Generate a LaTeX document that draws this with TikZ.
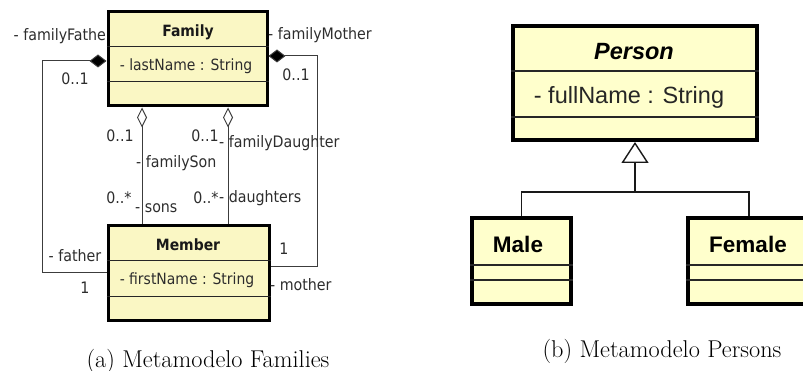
\documentclass[tikz,border=0pt]{standalone}
\usepackage{fontspec}
\newfontfamily\umlfont{DejaVu Sans Condensed}
\newfontfamily\arialfont{Liberation Sans}
\usetikzlibrary{arrows.meta}
\definecolor{umlfillA}{RGB}{250,247,196}
\definecolor{umlfillB}{RGB}{255,255,204}
\definecolor{labelgray}{RGB}{45,45,45}
\definecolor{linkgray}{RGB}{60,60,60}

\begin{document}
\begin{tikzpicture}[x=1pt,y=-1pt,
  classA/.style={draw=black, line width=3pt, fill=umlfillA, inner sep=0pt},
  classB/.style={draw=black, line width=4pt, fill=umlfillB, inner sep=0pt},
  dividerA/.style={draw=black!85, line width=1pt},
  dividerB/.style={draw=black!85, line width=1.1pt},
  titleA/.style={font=\umlfont\bfseries\fontsize{15.5}{18}\selectfont, text=black!90, inner sep=0pt},
  attrA/.style={font=\umlfont\fontsize{15.5}{18}\selectfont, text=labelgray, inner sep=0pt},
  lbl/.style={font=\umlfont\fontsize{15.8}{18}\selectfont, text=labelgray, inner sep=0pt},
  titleB/.style={font=\arialfont\bfseries\fontsize{22.5}{26}\selectfont, inner sep=0pt},
  attrB/.style={font=\arialfont\fontsize{23.5}{27}\selectfont, text=black!85, inner sep=0pt},
  caption/.style={font=\fontsize{24.3}{28}\selectfont, inner sep=0pt},
  link/.style={draw=linkgray, line width=1pt},
  composition/.style={link, {Diamond[fill=black,length=17pt,width=13pt]}-},
  aggregation/.style={link, {Diamond[open,fill=white,length=20pt,width=10pt]}-},
  genline/.style={draw=black!90, line width=1.4pt}
]
\useasboundingbox (0,0) rectangle (803,371);

% ---------------- Families metamodel ----------------
% role names drawn first so that the class boxes sit on top of them
\node[lbl, anchor=east] (lFamFather) at (112,36) {- familyFather};
\node[lbl, anchor=west] (lFamMother) at (268,35) {- familyMother};

\node[classA, minimum width=159pt, minimum height=94pt] (family) at (187.5,59) {};
\draw[dividerA] (family.west |- 0,47) -- (family.east |- 0,47);
\draw[dividerA] (family.west |- 0,82) -- (family.east |- 0,82);
\node[titleA] (familyTitle) at (188,32) {Family};
\node[attrA] (familyAttr) at (186,66) {- lastName : String};

\node[classA, minimum width=161pt, minimum height=94pt] (member) at (188.5,273) {};
\draw[dividerA] (member.west |- 0,261) -- (member.east |- 0,261);
\draw[dividerA] (member.west |- 0,297) -- (member.east |- 0,297);
\node[titleA] (memberTitle) at (188,245) {Member};
\node[attrA] (memberAttr) at (187,280) {- firstName : String};

% association end points
\coordinate (fatherEnd) at (family.west |- 0,61);
\coordinate (motherEnd) at (family.east |- 0,56);
\coordinate (motherIn) at (member.east |- 0,267);
\coordinate (sonTop) at (family.south -| 142,0);
\coordinate (sonBot) at (member.north -| 142,0);
\coordinate (daughterTop) at (family.south -| 228,0);
\coordinate (daughterBot) at (member.north -| 228,0);

\draw[composition] (fatherEnd) -- (42,61) |- (member.west);
\draw[composition] (motherEnd) -- (317,56) |- (motherIn);
\draw[aggregation] (sonTop) -- (sonBot);
\draw[aggregation] (daughterTop) -- (daughterBot);

% multiplicities and remaining role names
\node[lbl] (mFamFather) at (75,79) {0..1};
\node[lbl] (lFather) at (75,256) {- father};
\node[lbl] (mFather) at (85,288) {1};

\node[lbl] (mFamMother) at (296,75) {0..1};
\node[lbl] (mMother) at (284,249) {1};
\node[lbl, anchor=west] (lMother) at (270,285) {- mother};

\node[lbl] (mFamSon) at (120,136) {0..1};
\node[lbl, anchor=west] (lFamSon) at (136,163) {- familySon};
\node[lbl] (mSons) at (119,198) {0..*};
\node[lbl, anchor=west] (lSons) at (135,208) {- sons};

\node[lbl] (mFamDaughter) at (205,136) {0..1};
\node[lbl, anchor=west] (lFamDaughter) at (219,143) {- familyDaughter};
\node[lbl] (mDaughters) at (206,198) {0..*};
\node[lbl, anchor=west] (lDaughters) at (219,198) {- daughters};

\node[caption] (capA) at (208,361) {(a) Metamodelo Families};

% ---------------- Persons metamodel ----------------
\node[classB, minimum width=244pt, minimum height=114pt] (person) at (635,83) {};
\draw[dividerB] (person.west |- 0,71) -- (person.east |- 0,71);
\draw[dividerB] (person.west |- 0,117) -- (person.east |- 0,117);
\node[titleB, font=\arialfont\bfseries\itshape\fontsize{23.5}{27}\selectfont] (personTitle) at (634,52) {Person};
\node[attrB] (personAttr) at (629,97) {- fullName : String};

\node[classB, minimum width=99pt, minimum height=86pt] (male) at (521.5,261) {};
\draw[dividerB] (male.west |- 0,265) -- (male.east |- 0,265);
\draw[dividerB] (male.west |- 0,280) -- (male.east |- 0,280);
\node[titleB] (maleTitle) at (518,244) {Male};

\node[classB, minimum width=123pt, minimum height=86pt] (female) at (749,261) {};
\draw[dividerB] (female.west |- 0,265) -- (female.east |- 0,265);
\draw[dividerB] (female.west |- 0,280) -- (female.east |- 0,280);
\node[titleB] (femaleTitle) at (748,244) {Female};

\coordinate (genJoin) at (person.south |- 0,192);
\draw[genline, -{Triangle[open,fill=white,length=21pt,width=27pt]}] (genJoin) -- (person.south);
\draw[genline] (male.north) |- (genJoin) -| (female.north);

\node[caption] (capB) at (662,351) {(b) Metamodelo Persons};
\end{tikzpicture}
\end{document}
